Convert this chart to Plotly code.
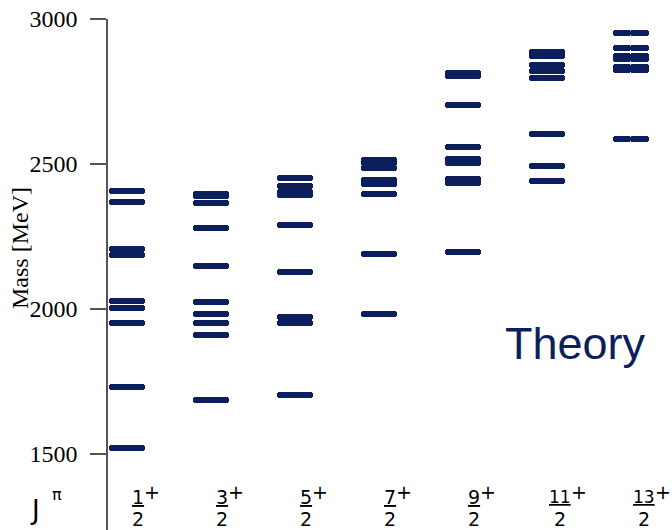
import plotly.graph_objects as go

# Spin-parity columns (J = n/2, positive parity)
numerators = ["1", "3", "5", "7", "9", "11", "13"]
columns = [1, 2, 3, 4, 5, 6, 7]

# Predicted baryon masses [MeV] for each J^P column
m_1_2 = [2408, 2369, 2206, 2185, 2027, 2002, 1952, 1730, 1520]
m_3_2 = [2398, 2391, 2366, 2278, 2149, 2024, 1983, 1953, 1910, 1687]
m_5_2 = [2452, 2425, 2403, 2394, 2290, 2127, 1972, 1953, 1704]
m_7_2 = [2515, 2505, 2487, 2446, 2430, 2397, 2191, 1982]
m_9_2 = [2812, 2802, 2704, 2560, 2518, 2502, 2447, 2436, 2197]
m_11_2 = [2886, 2872, 2840, 2820, 2796, 2603, 2493, 2441]
m_13_2 = [2953, 2900, 2872, 2862, 2835, 2826, 2587]
masses = [m_1_2, m_3_2, m_5_2, m_7_2, m_9_2, m_11_2, m_13_2]

y_ticks = [1500, 2000, 2500, 3000]

NAVY = "#0c1f5c"
AXIS_GREY = "#555555"
HALF = 0.2145      # half length of a level marker (x units)
THICK = 21         # level marker thickness (MeV)
EPS = 0.01

fig = go.Figure()

# each level is drawn as two half bars growing outward from the column centre,
# so both ends get rounded corners
for col, ms in zip(columns, masses):
    n = len(ms)
    for sign in (1, -1):
        fig.add_trace(go.Bar(
            orientation="h",
            y=ms,
            x=[sign * (HALF + EPS)] * n,
            base=[col - sign * EPS] * n,
            width=THICK,
            marker=dict(color=NAVY, line=dict(width=0), cornerradius=3),
            showlegend=False,
            hoverinfo="skip",
        ))

L, T, W, H = 108, 19, 672, 530
PW, PH = W - L, H - T


def px_x(p):
    return (p - L) / PW


def px_y(p):
    return (H - p) / PH


annotations = []


def jfont(size):
    return dict(family="DejaVu Sans", size=size, color="black")


# J^pi labels under each column
for col, num in zip(columns, numerators):
    two = len(num) == 2
    shift = 1 if two else 4
    annotations.append(dict(
        x=col, y=px_y(497), xref="x", yref="paper",
        text="<u>" + num + "</u>", showarrow=False, borderpad=0,
        xanchor="left", yanchor="middle", xshift=shift,
        font=jfont(17 if two else 19),
    ))
    annotations.append(dict(
        x=col, y=px_y(519), xref="x", yref="paper",
        text="2", showarrow=False, borderpad=0,
        xanchor="left", yanchor="middle", xshift=shift + (5 if two else 0),
        font=jfont(19),
    ))
    annotations.append(dict(
        x=col, y=px_y(492), xref="x", yref="paper",
        text="+", showarrow=False, borderpad=0,
        xanchor="left", yanchor="middle", xshift=shift + (22 if two else 12),
        font=jfont(19),
    ))

# J pi header
annotations.append(dict(
    x=px_x(35), y=px_y(510), xref="paper", yref="paper", text="J",
    showarrow=False, xanchor="center", yanchor="middle", font=jfont(26),
))
annotations.append(dict(
    x=px_x(57), y=px_y(494), xref="paper", yref="paper", text="π",
    showarrow=False, xanchor="center", yanchor="middle", font=jfont(16),
))

# y-axis title
annotations.append(dict(
    x=px_x(20), y=px_y(248), xref="paper", yref="paper", text="Mass [MeV]",
    showarrow=False, textangle=-90, xanchor="center", yanchor="middle",
    font=dict(family="Liberation Serif", size=24, color="black"),
))

# panel label
annotations.append(dict(
    x=px_x(503), y=px_y(343), xref="paper", yref="paper", text="Theory",
    showarrow=False, xanchor="left", yanchor="middle",
    font=dict(family="Liberation Sans", size=45, color=NAVY),
))

fig.update_layout(
    width=W, height=H,
    margin=dict(l=L, r=0, t=T, b=0),
    plot_bgcolor="white", paper_bgcolor="white",
    barmode="overlay", bargap=0,
    showlegend=False,
    annotations=annotations,
    xaxis=dict(range=[0.771, 7.493], visible=False, fixedrange=True),
    yaxis=dict(
        range=[3000 - PH / 0.29, 3000],
        tickvals=y_ticks,
        ticktext=[str(v) for v in y_ticks],
        ticks="outside", ticklen=16, tickwidth=1.5, tickcolor=AXIS_GREY,
        showline=True, linewidth=1.5, linecolor=AXIS_GREY,
        showgrid=False, zeroline=False,
        tickfont=dict(family="Liberation Serif", size=24, color="black"),
        ticklabelstandoff=8,
    ),
)

fig.write_html("out.html")
